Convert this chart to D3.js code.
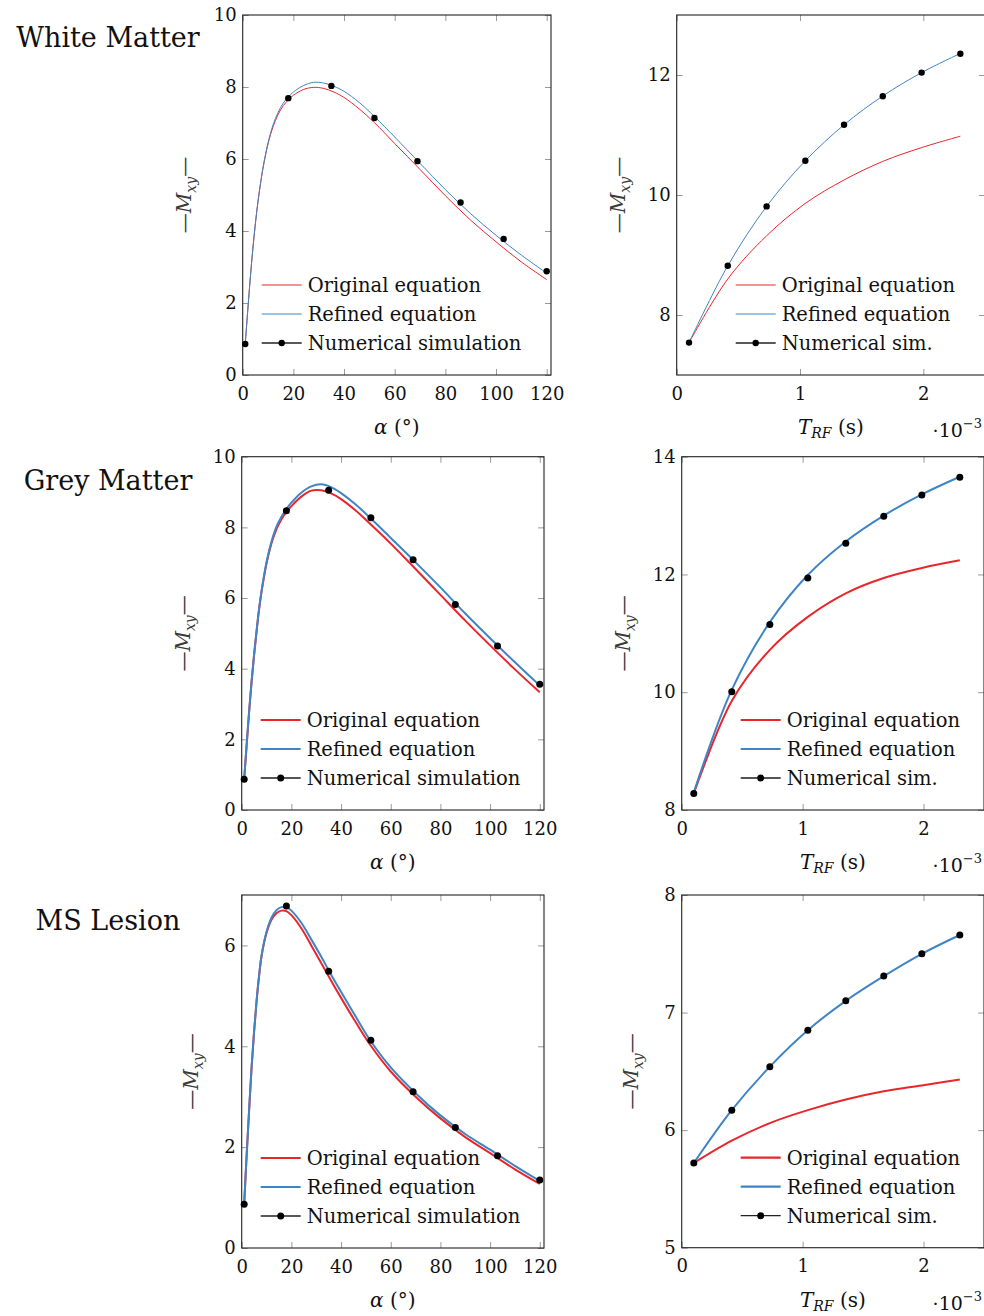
<!DOCTYPE html>
<html>
<head>
<meta charset="utf-8">
<script src="https://cdn.jsdelivr.net/npm/d3@7"></script>
<style>
  body { margin: 0; background: #fff; }
  svg { display: block; font-family: "DejaVu Serif", serif; }
</style>
</head>
<body>
<svg id="fig" width="984" height="1316"></svg>
<script>
// flip angle sweep (degrees) used for the equation curves
const alphaGrid = [1, 2, 3, 4, 5, 6, 7, 8, 10, 12, 14, 16, 18, 20, 24, 28, 32, 36, 40, 46, 52, 60, 70, 80, 90, 100, 110, 120];

const wmOriginal = [0.86, 1.8, 2.7, 3.5, 4.2, 4.8, 5.3, 5.74, 6.42, 6.9, 7.24, 7.48, 7.64, 7.77, 7.93, 7.99, 7.96, 7.86, 7.71, 7.39, 7.01, 6.43, 5.71, 4.98, 4.3, 3.7, 3.14, 2.65];
const wmRefined = [0.86, 1.8, 2.7, 3.5, 4.2, 4.8, 5.3, 5.75, 6.45, 6.95, 7.3, 7.55, 7.72, 7.86, 8.04, 8.13, 8.11, 8.02, 7.88, 7.57, 7.18, 6.61, 5.88, 5.15, 4.48, 3.88, 3.33, 2.83];
const gmOriginal = [0.87, 1.85, 2.8, 3.65, 4.4, 5.07, 5.68, 6.18, 6.98, 7.55, 7.95, 8.23, 8.44, 8.6, 8.87, 9.04, 9.05, 8.96, 8.8, 8.47, 8.08, 7.54, 6.82, 6.09, 5.36, 4.66, 3.98, 3.33];
const gmRefined = [0.87, 1.85, 2.8, 3.65, 4.4, 5.07, 5.7, 6.2, 7.02, 7.6, 8.02, 8.3, 8.52, 8.7, 8.98, 9.16, 9.22, 9.14, 8.97, 8.64, 8.25, 7.7, 7.01, 6.3, 5.56, 4.86, 4.18, 3.52];
const msOriginal = [0.87, 1.85, 2.75, 3.6, 4.3, 4.9, 5.4, 5.79, 6.25, 6.51, 6.64, 6.69, 6.68, 6.6, 6.34, 6.0, 5.65, 5.3, 4.96, 4.47, 4.01, 3.5, 3.0, 2.57, 2.2, 1.88, 1.56, 1.27];
const msRefined = [0.87, 1.85, 2.75, 3.6, 4.3, 4.9, 5.4, 5.8, 6.27, 6.55, 6.7, 6.76, 6.76, 6.69, 6.45, 6.12, 5.78, 5.42, 5.08, 4.58, 4.1, 3.58, 3.07, 2.63, 2.26, 1.95, 1.63, 1.33];

// numerical simulation, flip angle sweep
const simAlpha = [1, 18, 35, 52, 69, 86, 103, 120];
const wmSimAlpha = [0.86, 7.69, 8.03, 7.14, 5.94, 4.79, 3.78, 2.88];
const gmSimAlpha = [0.87, 8.47, 9.05, 8.27, 7.08, 5.82, 4.64, 3.56];
const msSimAlpha = [0.87, 6.78, 5.49, 4.12, 3.10, 2.39, 1.83, 1.35];

// RF pulse duration sweep (seconds)
const trfGrid = [0.0001, 0.000414, 0.000729, 0.001043, 0.001357, 0.001671, 0.001986, 0.0023];
const wmOriginalTrf = [7.54, 8.6, 9.32, 9.86, 10.25, 10.56, 10.79, 10.98];
const wmRefinedTrf = [7.54, 8.82, 9.81, 10.57, 11.17, 11.65, 12.04, 12.36];
const wmSimTrf = [7.54, 8.82, 9.81, 10.57, 11.17, 11.645, 12.04, 12.355];
const gmOriginalTrf = [8.28, 9.85, 10.72, 11.28, 11.68, 11.94, 12.11, 12.24];
const gmRefinedTrf = [8.3, 10.04, 11.19, 11.99, 12.56, 13.0, 13.36, 13.66];
const gmSimTrf = [8.28, 10.01, 11.15, 11.94, 12.53, 12.99, 13.35, 13.65];
const msOriginalTrf = [5.72, 5.91, 6.06, 6.17, 6.26, 6.33, 6.38, 6.43];
const msRefinedTrf = [5.72, 6.17, 6.54, 6.85, 7.10, 7.31, 7.50, 7.66];
const msSimTrf = [5.72, 6.17, 6.54, 6.85, 7.10, 7.31, 7.50, 7.66];

const rowTitles = ['White Matter', 'Grey Matter', 'MS Lesion'];
const legendLeft = ['Original equation', 'Refined equation', 'Numerical simulation'];
const legendRight = ['Original equation', 'Refined equation', 'Numerical sim.'];
const alphaTicks = [0, 20, 40, 60, 80, 100, 120];
const trfTicks = [0, 0.001, 0.002];

const RED = '#e8262b';
const BLUE = '#3f85c5';

const svg = d3.select('#fig');

const panels = [
  { box: [242.7, 551, 15, 375], xs: alphaGrid, orig: wmOriginal, ref: wmRefined, simX: simAlpha, sim: wmSimAlpha,
    xDomain: [0, 121.7], yDomain: [0, 10], yTicks: [0, 2, 4, 6, 8, 10], kind: 'alpha', lw: 1, r: 3.2, row: 0 },
  { box: [676.7, 985, 15, 375], xs: trfGrid, orig: wmOriginalTrf, ref: wmRefinedTrf, simX: trfGrid, sim: wmSimTrf,
    xDomain: [0, 0.0025], yDomain: [7, 13], yTicks: [8, 10, 12], kind: 'trf', lw: 1, r: 3.2, row: 0 },
  { box: [241.7, 544, 456.7, 810], xs: alphaGrid, orig: gmOriginal, ref: gmRefined, simX: simAlpha, sim: gmSimAlpha,
    xDomain: [0, 121.7], yDomain: [0, 10], yTicks: [0, 2, 4, 6, 8, 10], kind: 'alpha', lw: 2, r: 3.5, row: 1 },
  { box: [681.7, 984, 456.7, 810], xs: trfGrid, orig: gmOriginalTrf, ref: gmRefinedTrf, simX: trfGrid, sim: gmSimTrf,
    xDomain: [0, 0.0025], yDomain: [8, 14], yTicks: [8, 10, 12, 14], kind: 'trf', lw: 2, r: 3.5, row: 1 },
  { box: [241.7, 544, 895, 1248], xs: alphaGrid, orig: msOriginal, ref: msRefined, simX: simAlpha, sim: msSimAlpha,
    xDomain: [0, 121.7], yDomain: [0, 7], yTicks: [0, 2, 4, 6], kind: 'alpha', lw: 2, r: 3.5, row: 2 },
  { box: [681.7, 984, 895, 1247.7], xs: trfGrid, orig: msOriginalTrf, ref: msRefinedTrf, simX: trfGrid, sim: msSimTrf,
    xDomain: [0, 0.0025], yDomain: [5, 8], yTicks: [5, 6, 7, 8], kind: 'trf', lw: 2, r: 3.5, row: 2 },
];

const styleAxis = sel => {
  sel.select('.domain').remove();
  sel.selectAll('.tick line').attr('stroke', '#9a9a9a').attr('stroke-width', 1);
  sel.selectAll('.tick text')
    .attr('fill', '#111')
    .attr('font-family', '"DejaVu Serif", serif')
    .attr('font-size', 18);
};

const drawPanel = p => {
  const [left, right, top, bottom] = p.box;
  const x = d3.scaleLinear().domain(p.xDomain).range([left, right]);
  const y = d3.scaleLinear().domain(p.yDomain).range([bottom, top]);
  const xTicks = p.kind === 'alpha' ? alphaTicks : trfTicks;
  const fmt = p.kind === 'alpha' ? d3.format('d') : (d => d3.format('d')(d * 1e3));
  const g = svg.append('g');

  // ticks point inwards on all four sides
  g.append('g').attr('transform', `translate(0,${bottom})`)
    .call(d3.axisBottom(x).tickValues(xTicks).tickFormat(fmt).tickSize(-6).tickPadding(12))
    .call(styleAxis);
  g.append('g').attr('transform', `translate(0,${top})`)
    .call(d3.axisTop(x).tickValues(xTicks).tickFormat('').tickSize(-6))
    .call(styleAxis);
  g.append('g').attr('transform', `translate(${left},0)`)
    .call(d3.axisLeft(y).tickValues(p.yTicks).tickFormat(d3.format('d')).tickSize(-6).tickPadding(6))
    .call(styleAxis);
  g.append('g').attr('transform', `translate(${right},0)`)
    .call(d3.axisRight(y).tickValues(p.yTicks).tickFormat('').tickSize(-6))
    .call(styleAxis);

  g.append('rect')
    .attr('x', left).attr('y', top)
    .attr('width', right - left).attr('height', bottom - top)
    .attr('fill', 'none').attr('stroke', '#222').attr('stroke-width', 1.1);

  const line = d3.line()
    .x((d, i) => x(p.xs[i]))
    .y(d => y(d))
    .curve(d3.curveCatmullRom.alpha(0.5));

  g.append('path').attr('d', line(p.orig))
    .attr('fill', 'none').attr('stroke', RED).attr('stroke-width', p.lw);
  g.append('path').attr('d', line(p.ref))
    .attr('fill', 'none').attr('stroke', BLUE).attr('stroke-width', p.lw);

  g.selectAll('circle.sim')
    .data(p.sim)
    .enter().append('circle')
      .attr('class', 'sim')
      .attr('cx', (d, i) => x(p.simX[i]))
      .attr('cy', d => y(d))
      .attr('r', p.r)
      .attr('fill', '#000');

  // legend, lower right of each box
  const lx = left + (p.kind === 'alpha' ? 19 : 59);
  const labels = p.kind === 'alpha' ? legendLeft : legendRight;
  const colors = [RED, BLUE, p.row === 1 ? '#555' : '#222'];
  labels.forEach((label, i) => {
    const ly = bottom - 90 + i * 29;
    g.append('line')
      .attr('x1', lx).attr('x2', lx + 40).attr('y1', ly).attr('y2', ly)
      .attr('stroke', colors[i])
      .attr('stroke-width', i === 2 ? (p.row === 1 ? 2 : 1.3) : p.lw + 0.2);
    if (i === 2) {
      g.append('circle').attr('cx', lx + 20).attr('cy', ly).attr('r', p.r).attr('fill', '#000');
    }
    g.append('text')
      .attr('x', lx + 46).attr('y', ly + 7)
      .attr('font-size', 19.5)
      .attr('fill', '#111')
      .text(label);
  });

  // y axis label |M_xy| (rendered with rules as in the source)
  const twoDigit = d3.max(p.yTicks) >= 10;
  const ylab = g.append('text')
    .attr('transform', `translate(${left - (twoDigit ? 52 : 44)},${(top + bottom) / 2}) rotate(-90)`)
    .attr('text-anchor', 'middle')
    .attr('font-size', 20)
    .attr('fill', '#3a3a3a');
  ylab.append('tspan').text('—');
  ylab.append('tspan').attr('font-style', 'italic').text('M');
  ylab.append('tspan').attr('font-style', 'italic').attr('font-size', 14).attr('dy', 5).text('xy');
  ylab.append('tspan').attr('dy', -5).text('—');

  // x axis label
  const cx = (left + right) / 2;
  const xlab = g.append('text')
    .attr('x', cx).attr('y', bottom + 59)
    .attr('text-anchor', 'middle')
    .attr('font-size', 20)
    .attr('fill', '#111');
  if (p.kind === 'alpha') {
    xlab.append('tspan').attr('font-style', 'italic').text('α');
    xlab.append('tspan').text(' (°)');
  } else {
    xlab.append('tspan').attr('font-style', 'italic').text('T');
    xlab.append('tspan').attr('font-style', 'italic').attr('font-size', 14).attr('dy', 4).text('RF');
    xlab.append('tspan').attr('dy', -4).text(' (s)');

    const ex = g.append('text')
      .attr('x', 982).attr('y', bottom + 62)
      .attr('text-anchor', 'end')
      .attr('font-size', 19)
      .attr('fill', '#111');
    ex.append('tspan').text('·10');
    ex.append('tspan').attr('font-size', 13).attr('dy', -9).text('−3');
  }
};

panels.forEach(drawPanel);

// row titles
const titleY = [47, 490, 930];
rowTitles.forEach((t, i) => {
  svg.append('text')
    .attr('x', 108).attr('y', titleY[i])
    .attr('text-anchor', 'middle')
    .attr('font-size', 27)
    .attr('fill', '#111')
    .text(t);
});
</script>
</body>
</html>
